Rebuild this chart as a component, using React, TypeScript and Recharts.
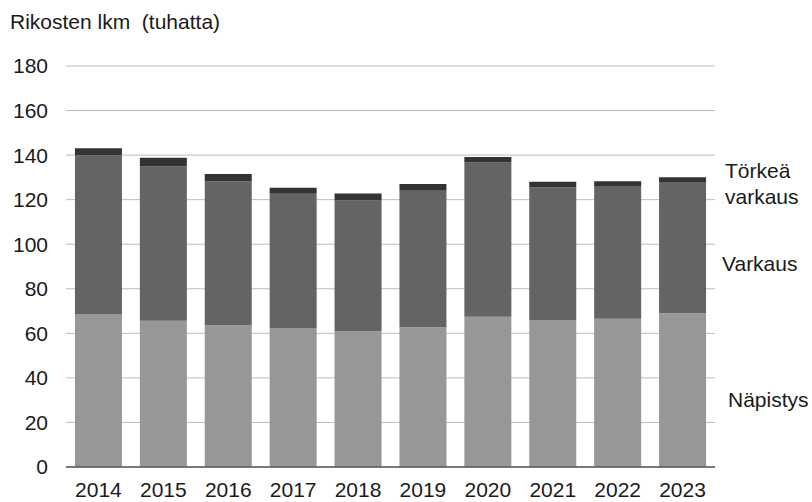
import React from "react";
import { BarChart, Bar, XAxis, YAxis, CartesianGrid } from "recharts";

const years = ["2014", "2015", "2016", "2017", "2018", "2019", "2020", "2021", "2022", "2023"];
const napistys = [68.5, 65.7, 63.6, 62.2, 60.9, 62.7, 67.5, 65.8, 66.6, 69.0];
const varkaus = [71.4, 69.2, 64.7, 60.4, 58.7, 61.3, 69.2, 59.8, 59.5, 58.9];
const torkeaVarkaus = [3.2, 3.9, 3.2, 2.7, 3.2, 3.0, 2.5, 2.4, 2.2, 2.2];
const yTicks = [0, 20, 40, 60, 80, 100, 120, 140, 160, 180];

const data = years.map((y, i) => ({
  year: y,
  napistys: napistys[i],
  varkaus: varkaus[i],
  torkea: torkeaVarkaus[i],
}));

const FONT = "'Liberation Sans', Arial, sans-serif";
const TEXT = "#1a1a1a";

export default function App() {
  return (
    <div style={{ position: "absolute", left: 0, top: 0, width: 812, height: 502, background: "#fff" }}>
      <BarChart
        width={812}
        height={502}
        data={data}
        margin={{ top: 66, right: 97, left: 0, bottom: 0 }}
        barCategoryGap="13.8%"
        style={{ fontFamily: FONT }}
      >
        <CartesianGrid vertical={false} stroke="#bdbdbd" strokeWidth={1} />
        <XAxis
          dataKey="year"
          height={35}
          tickLine={false}
          tickSize={0}
          tickMargin={15}
          axisLine={{ stroke: "#595959", strokeWidth: 1.3 }}
          tick={{ fill: TEXT, fontSize: 21, fontFamily: FONT }}
          interval={0}
        />
        <YAxis
          width={66}
          domain={[0, 180]}
          ticks={yTicks}
          interval={0}
          axisLine={false}
          tickLine={false}
          tickSize={0}
          tickMargin={18}
          tick={{ fill: TEXT, fontSize: 21, fontFamily: FONT }}
        />
        <Bar dataKey="napistys" stackId="a" fill="#979797" isAnimationActive={false} />
        <Bar dataKey="varkaus" stackId="a" fill="#646464" isAnimationActive={false} />
        <Bar dataKey="torkea" stackId="a" fill="#333333" isAnimationActive={false} />
        <text x={10} y={29} fontSize={21} fill={TEXT} fontFamily={FONT} style={{ whiteSpace: "pre" }}>
          {"Rikosten lkm  (tuhatta)"}
        </text>
        <text x={725} y={178} fontSize={21} fill={TEXT} fontFamily={FONT}>Törkeä</text>
        <text x={725} y={204} fontSize={21} fill={TEXT} fontFamily={FONT}>varkaus</text>
        <text x={722} y={271} fontSize={21} fill={TEXT} fontFamily={FONT}>Varkaus</text>
        <text x={728} y={407} fontSize={21} fill={TEXT} fontFamily={FONT}>Näpistys</text>
      </BarChart>
    </div>
  );
}
